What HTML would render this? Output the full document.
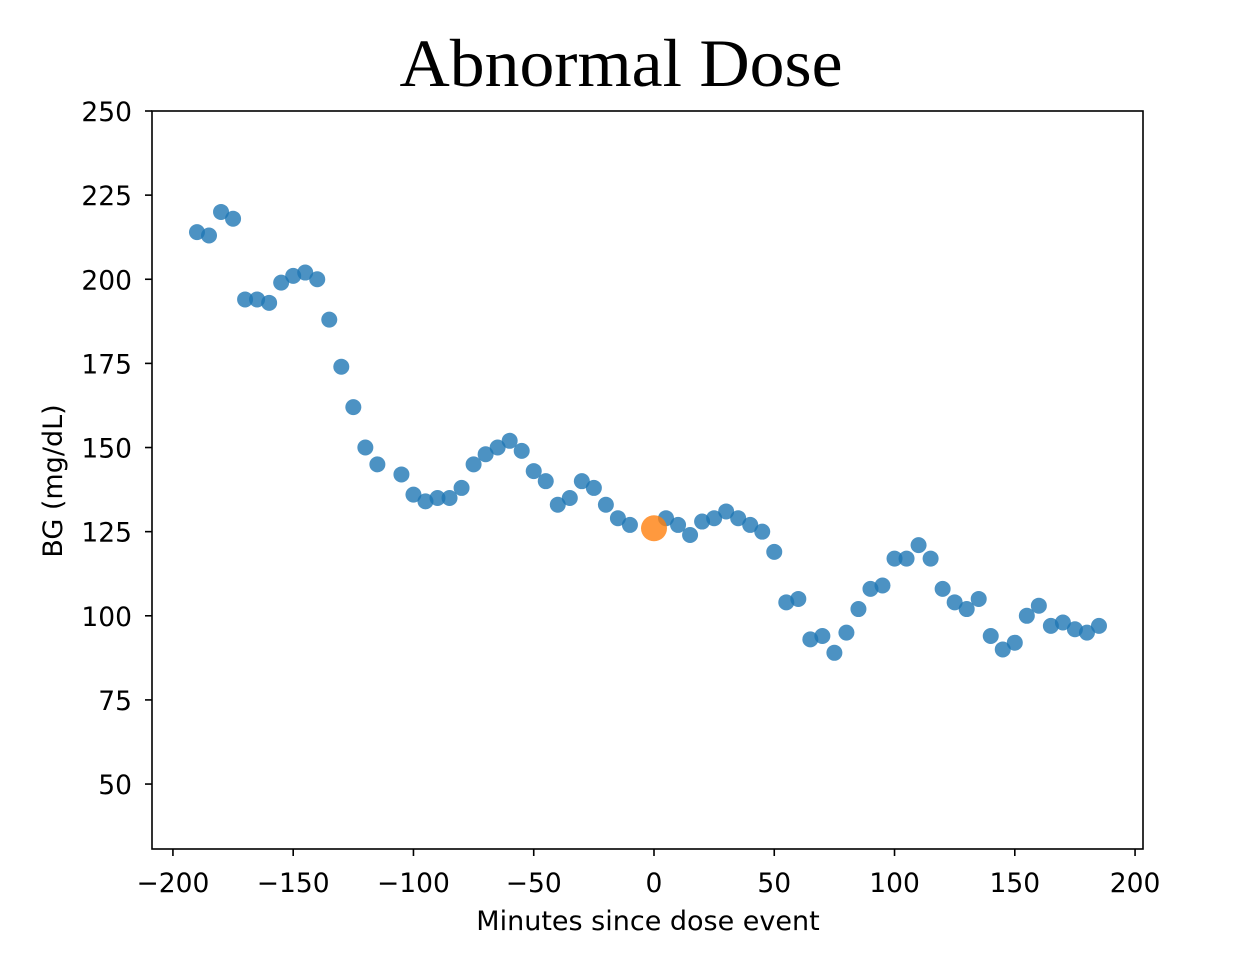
<!DOCTYPE html>
<html><head><meta charset="utf-8"><style>
html,body{margin:0;padding:0;background:#fff;}
svg{display:block;}
text{font-family:"DejaVu Sans","Liberation Sans",sans-serif;fill:#000;}
</style></head><body>
<svg id="chart" width="1242" height="956">
<text x="621" y="86" text-anchor="middle" style="font-family:'Liberation Serif',serif;font-size:68px" textLength="443" lengthAdjust="spacingAndGlyphs">Abnormal Dose</text>
<g id="plot"></g>
<text x="648" y="930" text-anchor="middle" font-size="27">Minutes since dose event</text>
<text transform="translate(62,481) rotate(-90)" text-anchor="middle" font-size="27">BG (mg/dL)</text>
</svg>
<script>
const minutes = [-190,-185,-180,-175,-170,-165,-160,-155,-150,-145,-140,-135,-130,-125,-120,-115,-105,-100,-95,-90,-85,-80,-75,-70,-65,-60,-55,-50,-45,-40,-35,-30,-25,-20,-15,-10,5,10,15,20,25,30,35,40,45,50,55,60,65,70,75,80,85,90,95,100,105,110,115,120,125,130,135,140,145,150,155,160,165,170,175,180,185];
const bgValues = [214,213,220,218,194,194,193,199,201,202,200,188,174,162,150,145,142,136,134,135,135,138,145,148,150,152,149,143,140,133,135,140,138,133,129,127,129,127,124,128,129,131,129,127,125,119,104,105,93,94,89,95,102,108,109,117,117,121,117,108,104,102,105,94,90,92,100,103,97,98,96,95,97];
const doseMinute = [0];
const doseBG = [126];
const xTicks = [-200,-150,-100,-50,0,50,100,150,200];
const yTicks = [50,75,100,125,150,175,200,225,250];
const xMin=-208.7,xMax=203.3,yMin=30.7,yMax=250;
const L=152,R=1143,T=111,B=849;
const sx=v=>L+(v-xMin)/(xMax-xMin)*(R-L);
const sy=v=>B-(v-yMin)/(yMax-yMin)*(B-T);
const NS="http://www.w3.org/2000/svg";
const g=document.getElementById('plot');
function mk(t,a){const e=document.createElementNS(NS,t);for(const k in a)e.setAttribute(k,a[k]);g.appendChild(e);return e;}
minutes.forEach((m,i)=>{
  const c=mk('circle',{cx:sx(m),cy:sy(bgValues[i]),r:8,fill:'#1f77b4','fill-opacity':0.8});
  
  
});
doseMinute.forEach((m,i)=>{
  const c=mk('circle',{cx:sx(m),cy:sy(doseBG[i]),r:13,fill:'#ff7f0e','fill-opacity':0.8});
  
  
});
const fr=mk('rect',{x:L,y:T,width:R-L,height:B-T,fill:'none',stroke:'#000','stroke-width':1.6});


xTicks.forEach(t=>{
  const x=sx(t);
  const l=mk('line',{x1:x,x2:x,y1:B,y2:B+7,stroke:'#000','stroke-width':1.6});
  
  
  const tx=mk('text',{x:x,y:892,'text-anchor':'middle','font-size':26.5});
  tx.textContent=(t<0?'\u2212'+(-t):t);
  
  
});
yTicks.forEach(t=>{
  const y=sy(t);
  const l=mk('line',{x1:L-7,x2:L,y1:y,y2:y,stroke:'#000','stroke-width':1.6});
  
  
  const tx=mk('text',{x:L-20,y:y+10,'text-anchor':'end','font-size':26.5});
  tx.textContent=t;
  
  
});
</script>
</body></html>
